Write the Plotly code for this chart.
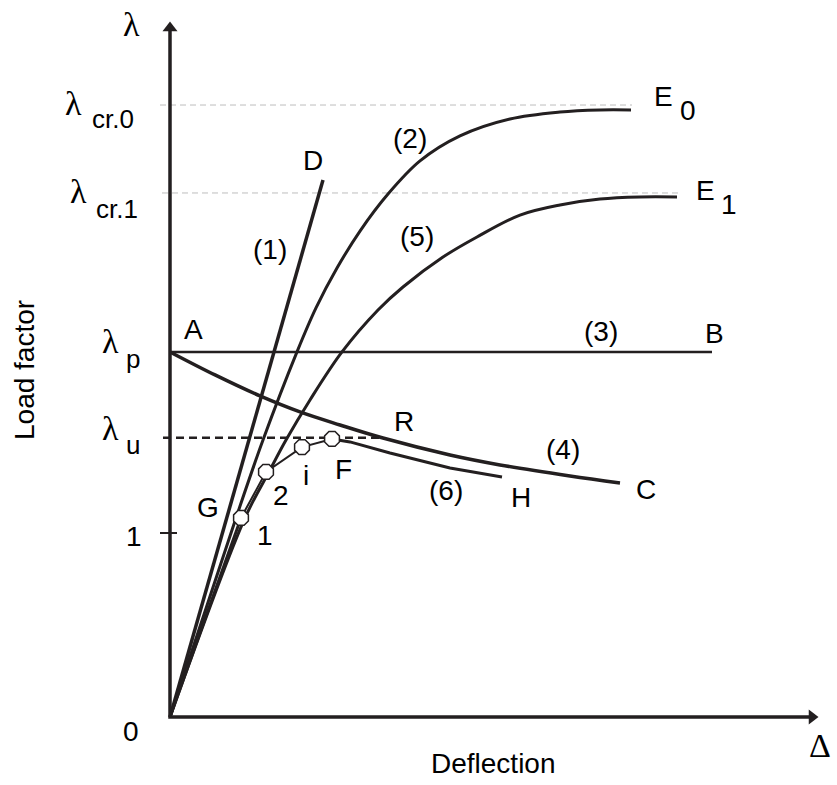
import plotly.graph_objects as go

# ---------------- data (load factor vs deflection, schematic) ----------------
lam_cr0 = 3.326
lam_cr1 = 2.848
lam_p = 1.984
lam_u = 1.518

tick_vals = [0, 1]
tick_text = ["0", "1"]
lam_levels = [lam_u, lam_p, lam_cr1, lam_cr0]
lam_subs = ["u", "p", "cr.1", "cr.0"]

# (1) elastic line O-D
c1_x = [0, 1.53]
c1_y = [0, 2.918]
# (2) elastic buckling O-E0
c2_x = [0, 0.66, 0.93, 1.27, 1.46, 1.67, 1.90, 2.18, 2.50, 2.90, 3.40, 3.90, 4.30, 4.61]
c2_y = [0, 1.082, 1.505, 1.984, 2.223, 2.440, 2.641, 2.842, 3.022, 3.158, 3.250, 3.288, 3.299, 3.299]
# (5) imperfect elastic O-E1
c5_x = [0, 0.75, 0.99, 1.16, 1.40, 1.72, 2.08, 2.33, 2.73, 3.07, 3.50, 3.90, 4.30, 4.70, 5.07]
c5_y = [0, 1.082, 1.332, 1.505, 1.723, 1.984, 2.212, 2.337, 2.500, 2.609, 2.728, 2.783, 2.815, 2.826, 2.826]
# (3) rigid-plastic A-B
c3_x = [0, 5.42]
c3_y = [lam_p, lam_p]
# (4) rigid-plastic with 2nd order effects A-C
c4_x = [0, 0.45, 0.90, 1.30, 1.70, 2.13, 2.80, 3.30, 4.00, 4.50]
c4_y = [1.984, 1.859, 1.745, 1.658, 1.587, 1.516, 1.424, 1.370, 1.310, 1.272]
# (6) elasto-plastic O-1-2-i-F-H
c6_x = [0, 0.71, 0.96, 1.32, 1.62, 1.80, 2.20, 2.80, 3.32]
c6_y = [0, 1.082, 1.332, 1.467, 1.511, 1.495, 1.435, 1.353, 1.304]
hinge_idx = [1, 2, 3, 4]
hinge_labels = ["1", "2", "i", "F"]

# ---------------- helpers for placing text (pixel -> data) ----------------
def X(px):
    return (px - 170) / 100.0

def Y(py):
    return (717 - py) / 184.0

INK = "#231f20"
SANS = "Liberation Sans, Arial, sans-serif"
SERIF = "Liberation Serif, Times New Roman, serif"

fig = go.Figure()

def line(x, y, w, color=INK, dash=None, shape="linear", smooth=None):
    ln = dict(color=color, width=w, shape=shape)
    if dash:
        ln["dash"] = dash
    if smooth is not None:
        ln["smoothing"] = smooth
    fig.add_trace(go.Scatter(x=x, y=y, mode="lines", line=ln,
                             hoverinfo="skip", showlegend=False, cliponaxis=False))

# reference dashed levels
line([X(160), X(632)], [lam_cr0, lam_cr0], 1, color="#bdbdbd", dash="6px,4px")
line([X(162), X(680)], [lam_cr1, lam_cr1], 1, color="#bdbdbd", dash="6px,4px")
line([X(163), X(381)], [lam_u, lam_u], 2.5, dash="8px,5px")

# tick at 1
line([X(160), X(177)], [1, 1], 2)

# curves
line(c1_x, c1_y, 3.5)
line(c2_x, c2_y, 3, shape="spline", smooth=1.0)
line(c5_x, c5_y, 3, shape="spline", smooth=1.0)
line(c3_x, c3_y, 2.5)
line(c4_x, c4_y, 3.5, shape="spline", smooth=1.0)
line(c6_x[:2], c6_y[:2], 3)
line(c6_x[1:5], c6_y[1:5], 2)
line(c6_x[4:], c6_y[4:], 3)

# hinge markers
fig.add_trace(go.Scatter(
    x=[c6_x[i] for i in hinge_idx], y=[c6_y[i] for i in hinge_idx],
    mode="markers", marker=dict(symbol="octagon", size=16, color="white",
                                line=dict(color=INK, width=1.5)),
    hoverinfo="skip", showlegend=False, cliponaxis=False))

# axes with arrows
line([X(811), 0, 0], [0, 0, Y(30)], 3.5)
fig.add_trace(go.Scatter(x=[X(812)], y=[0], mode="markers",
                         marker=dict(symbol="triangle-right", size=13, color=INK),
                         hoverinfo="skip", showlegend=False, cliponaxis=False))
fig.add_trace(go.Scatter(x=[0], y=[Y(28)], mode="markers",
                         marker=dict(symbol="triangle-up", size=13, color=INK),
                         hoverinfo="skip", showlegend=False, cliponaxis=False))

ann = []

def txt(s, px, py, size=28, font=SANS, xanchor="center", yanchor="middle", angle=0):
    ann.append(dict(text=s, x=X(px), y=Y(py), xref="x", yref="y", showarrow=False,
                    font=dict(family=font, size=size, color="black"),
                    xanchor=xanchor, yanchor=yanchor, textangle=angle))

# y tick labels
txt(tick_text[0], 131, 731)
txt(tick_text[1], 134, 536)
lam_pos = {"u": (110, 428.5, 133, 445), "p": (110, 341.5, 133, 359),
           "cr.1": (78, 191, 116.5, 208.7), "cr.0": (73, 103.5, 113, 118.7)}
for lv, sub in zip(lam_levels, lam_subs):
    lx, ly, sx, sy = lam_pos[sub]
    txt("λ", lx, ly, size=34, font=SERIF)
    txt(sub, sx, sy, size=26)

# axis symbols and titles
txt("λ", 131, 24.5, size=34, font=SERIF)
txt("Δ", 820, 745, size=34, font=SERIF)
txt("Deflection", 429, 763.5, size=28, xanchor="left")
txt("Load factor", 24, 442, size=28, angle=-90, yanchor="bottom")

# curve labels
for s, px, py in [("A", 193, 329.5), ("B", 714, 333), ("D", 312.5, 160),
                  ("(1)", 270, 249.5), ("(2)", 409.5, 138.5), ("(5)", 417, 236),
                  ("(3)", 600.5, 331), ("R", 403.5, 421), ("(4)", 562.5, 449),
                  ("C", 646, 489), ("(6)", 445.5, 490), ("H", 520.5, 497),
                  ("G", 208, 507), ("1", 265, 535.5), ("2", 280.5, 495.5),
                  ("i", 305.5, 475), ("F", 343, 469),
                  ("E", 663.5, 96), ("0", 688, 110.5),
                  ("E", 705, 190), ("1", 729, 204.5)]:
    txt(s, px, py)

fig.update_layout(
    width=837, height=785, autosize=False,
    margin=dict(l=0, r=0, t=0, b=0),
    paper_bgcolor="white", plot_bgcolor="white",
    xaxis=dict(range=[X(0), X(837)], visible=False, fixedrange=True),
    yaxis=dict(range=[Y(785), Y(0)], visible=False, fixedrange=True),
    annotations=ann,
)

fig.write_html("out.html")
